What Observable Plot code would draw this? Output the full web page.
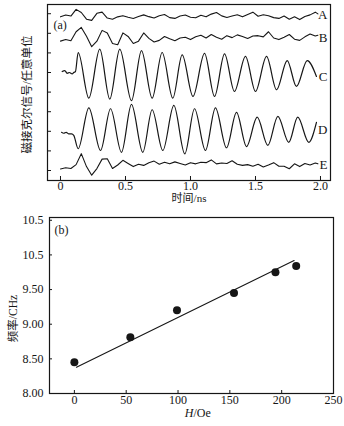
<!DOCTYPE html>
<html><head><meta charset="utf-8">
<script src="https://cdn.jsdelivr.net/npm/d3@7"></script>
<script src="https://cdn.jsdelivr.net/npm/@observablehq/plot@0.6"></script>
<style>
body{margin:0;background:#fff;width:344px;height:426px;overflow:hidden}
#chart svg{display:block}
</style></head><body><div id="chart"></div>
<script>
// ---------- Panel (a): Kerr signal traces ----------
const traceNames = ["A","B","C","D","E"];
const traceBaselines = [79.5, 67.5, 48, 21, 3];
const gridT = [0,0.04,0.08,0.12,0.16,0.2,0.24,0.28,0.32,0.36,0.4,0.44,0.48,0.52,0.56,0.6,0.64,0.68,0.72,0.76,0.8,0.84,0.88,0.92,0.96,1,1.04,1.08,1.12,1.16,1.2,1.24,1.28,1.32,1.36,1.4,1.44,1.48,1.52,1.56,1.6,1.64,1.68,1.72,1.76,1.8,1.84,1.88,1.92,1.96,1.98];
const traceA = [78.4,79.3,78.8,82.2,80.6,77.2,76.6,80.2,80.8,77.8,77.2,78.4,79.0,78.2,77.6,78.6,79.4,78.5,77.8,79.0,79.6,78.0,77.6,78.8,79.3,78.2,77.9,79.2,78.4,79.8,80.6,78.9,78.1,78.8,79.5,78.4,79.6,80.8,78.7,79.5,79.0,78.0,77.6,78.8,77.2,78.4,77.0,78.6,79.4,80.8,79.9];
const traceB = [66.0,66.8,66.2,70.8,73.0,68.5,63.2,66.0,71.5,70.2,64.8,64.2,70.2,68.4,64.8,66.0,70.2,67.4,65.6,66.4,68.4,67.2,66.2,67.6,68.0,66.8,68.2,69.0,67.6,69.4,68.0,67.0,68.8,67.8,69.2,68.4,67.4,68.6,68.8,68.2,70.8,67.6,66.8,68.0,69.4,67.0,66.4,68.2,69.6,68.6,69.0];
const traceE = [0.8,1.4,1.0,3.0,8.6,2.0,-2.4,1.0,5.8,6.0,1.0,2.8,5.2,3.6,2.0,3.2,2.6,4.0,4.8,3.2,4.2,3.4,4.4,3.6,2.8,4.0,3.4,4.2,4.0,5.4,3.4,3.8,3.6,5.0,3.2,2.6,3.0,2.2,3.2,1.8,2.8,4.0,2.2,2.2,0.9,3.4,2.0,3.6,2.8,3.8,3.4];
const traceC_t = [0.013,0.033,0.051,0.069,0.09,0.102,0.115,0.136,0.218,0.302,0.379,0.456,0.546,0.623,0.705,0.782,0.864,0.936,1.019,1.108,1.185,1.262,1.338,1.423,1.5,1.585,1.662,1.744,1.815,1.898,1.969];
const traceC_v = [50.5,51.0,49.6,50.0,49.3,50.0,50.5,60.2,36.9,61.9,36.4,61.9,35.6,61.2,36.9,60.2,36.9,59.0,37.8,59.8,37.8,59.5,40.3,58.2,40.3,58.2,41.2,56.1,42.9,56.1,48.0];
const traceD_t = [0.008,0.025,0.044,0.064,0.085,0.102,0.136,0.218,0.308,0.385,0.469,0.546,0.633,0.705,0.787,0.872,0.956,1.031,1.115,1.192,1.277,1.354,1.431,1.513,1.595,1.672,1.756,1.825,1.910,1.969];
const traceD_v = [19.5,19.0,19.5,18.7,18.7,17.9,11.1,32.0,10.2,31.5,9.3,33.7,9.3,31.0,10.2,33.2,8.5,31.5,10.2,32.0,11.6,29.7,12.2,27.2,12.8,27.6,14.4,27.2,14.4,24.6];
const timeTicks = [0, 0.5, 1, 1.5, 2];
const timeTickLabels = ["0", "0.5", "1.0", "1.5", "2.0"];
const signalTicks = [0, 10, 20, 30, 40, 50, 60, 70, 80];

// ---------- Panel (b): frequency vs field ----------
const fieldH = [0, 54, 99, 154, 194, 214];
const freqGHz = [8.45, 8.81, 9.20, 9.45, 9.75, 9.84];
const fitH = [2, 212];
const fitF = [8.38, 9.92];
const fieldTicks = [0, 50, 100, 150, 200, 250];
const freqTicks = [8, 8.5, 9, 9.5, 10, 10.5];
const freqTickLabels = ["8.00", "8.50", "9.00", "9.50", "10.5", "10.5"];

const FONT = "'Liberation Serif','Times New Roman','Noto Sans CJK SC',serif";
const INK = "#161616";

const noisyRows = [];
[["A", traceA], ["B", traceB], ["E", traceE]].forEach(([n, arr]) =>
  arr.forEach((v, i) => noisyRows.push({name: n, t: gridT[i], v})));
const smoothRows = [];
traceC_t.forEach((t, i) => smoothRows.push({name: "C", t, v: traceC_v[i]}));
traceD_t.forEach((t, i) => smoothRows.push({name: "D", t, v: traceD_v[i]}));

const plotA = Plot.plot({
  width: 344, height: 206,
  marginLeft: 47, marginRight: 14, marginTop: 4, marginBottom: 26,
  x: {domain: [-0.1, 2.077]},
  y: {domain: [-5.1, 84.7]},
  style: {fontFamily: FONT, fontSize: "12px", color: INK, background: "#fff"},
  marks: [
    Plot.axisX(timeTicks, {tickSize: -4, tickPadding: 5, tickFormat: d => timeTickLabels[timeTicks.indexOf(d)], label: null, fontSize: 12}),
    Plot.axisY(signalTicks, {tickSize: -4, tickFormat: () => "", label: null}),
    Plot.line(noisyRows, {x: "t", y: "v", z: "name", stroke: INK, strokeWidth: 1.1}),
    Plot.line(smoothRows, {x: "t", y: "v", z: "name", curve: "monotone-x", stroke: INK, strokeWidth: 1.2}),
    Plot.text(traceNames, {frameAnchor: "right", y: traceBaselines, text: d => d, textAnchor: "end", dx: -3, fontSize: 13}),
    Plot.text(["(a)"], {frameAnchor: "top-left", textAnchor: "start", lineAnchor: "middle", dx: 6, dy: 21, fontSize: 12}),
    Plot.text(["时间/ns"], {frameAnchor: "bottom", textAnchor: "middle", lineAnchor: "middle", dy: 18, fontSize: 11}),
    Plot.text(["磁接克尔信号/任意单位"], {frameAnchor: "left", textAnchor: "middle", lineAnchor: "middle", rotate: -90, dx: -20, dy: 2, fontSize: 11.5}),
    Plot.frame({stroke: INK, strokeWidth: 1.2})
  ]
});

const plotB = Plot.plot({
  width: 344, height: 220,
  marginLeft: 49, marginRight: 11, marginTop: 11, marginBottom: 33,
  x: {domain: [-24, 250]},
  y: {domain: [8.0, 10.54]},
  style: {fontFamily: FONT, fontSize: "12px", color: INK, background: "#fff"},
  marks: [
    Plot.axisX(fieldTicks, {tickSize: -3, tickPadding: 5, label: null, fontSize: 12}),
    Plot.axisY(freqTicks, {tickSize: -3, tickPadding: 9, tickFormat: d => freqTickLabels[freqTicks.indexOf(d)], label: null, fontSize: 12}),
    Plot.line(fitH.map((h, i) => ({h, f: fitF[i]})), {x: "h", y: "f", stroke: INK, strokeWidth: 1.1}),
    Plot.dot(fieldH.map((h, i) => ({h, f: freqGHz[i]})), {x: "h", y: "f", r: 4, fill: INK, stroke: "none"}),
    Plot.text(["(b)"], {frameAnchor: "top-left", textAnchor: "start", lineAnchor: "middle", dx: 5, dy: 13, fontSize: 12}),
    Plot.text(["H"], {frameAnchor: "bottom", textAnchor: "end", lineAnchor: "middle", dx: 2, dy: 20, fontStyle: "italic", fontSize: 12}),
    Plot.text(["/Oe"], {frameAnchor: "bottom", textAnchor: "start", lineAnchor: "middle", dx: 2, dy: 20, fontSize: 12}),
    Plot.text(["频率/CHz"], {frameAnchor: "left", textAnchor: "middle", lineAnchor: "middle", rotate: -90, dx: -36, dy: 13, fontSize: 11.5}),
    Plot.frame({stroke: INK, strokeWidth: 1.2})
  ]
});

const chart = document.getElementById("chart");
chart.appendChild(plotA);
chart.appendChild(plotB);
</script>
</body></html>
